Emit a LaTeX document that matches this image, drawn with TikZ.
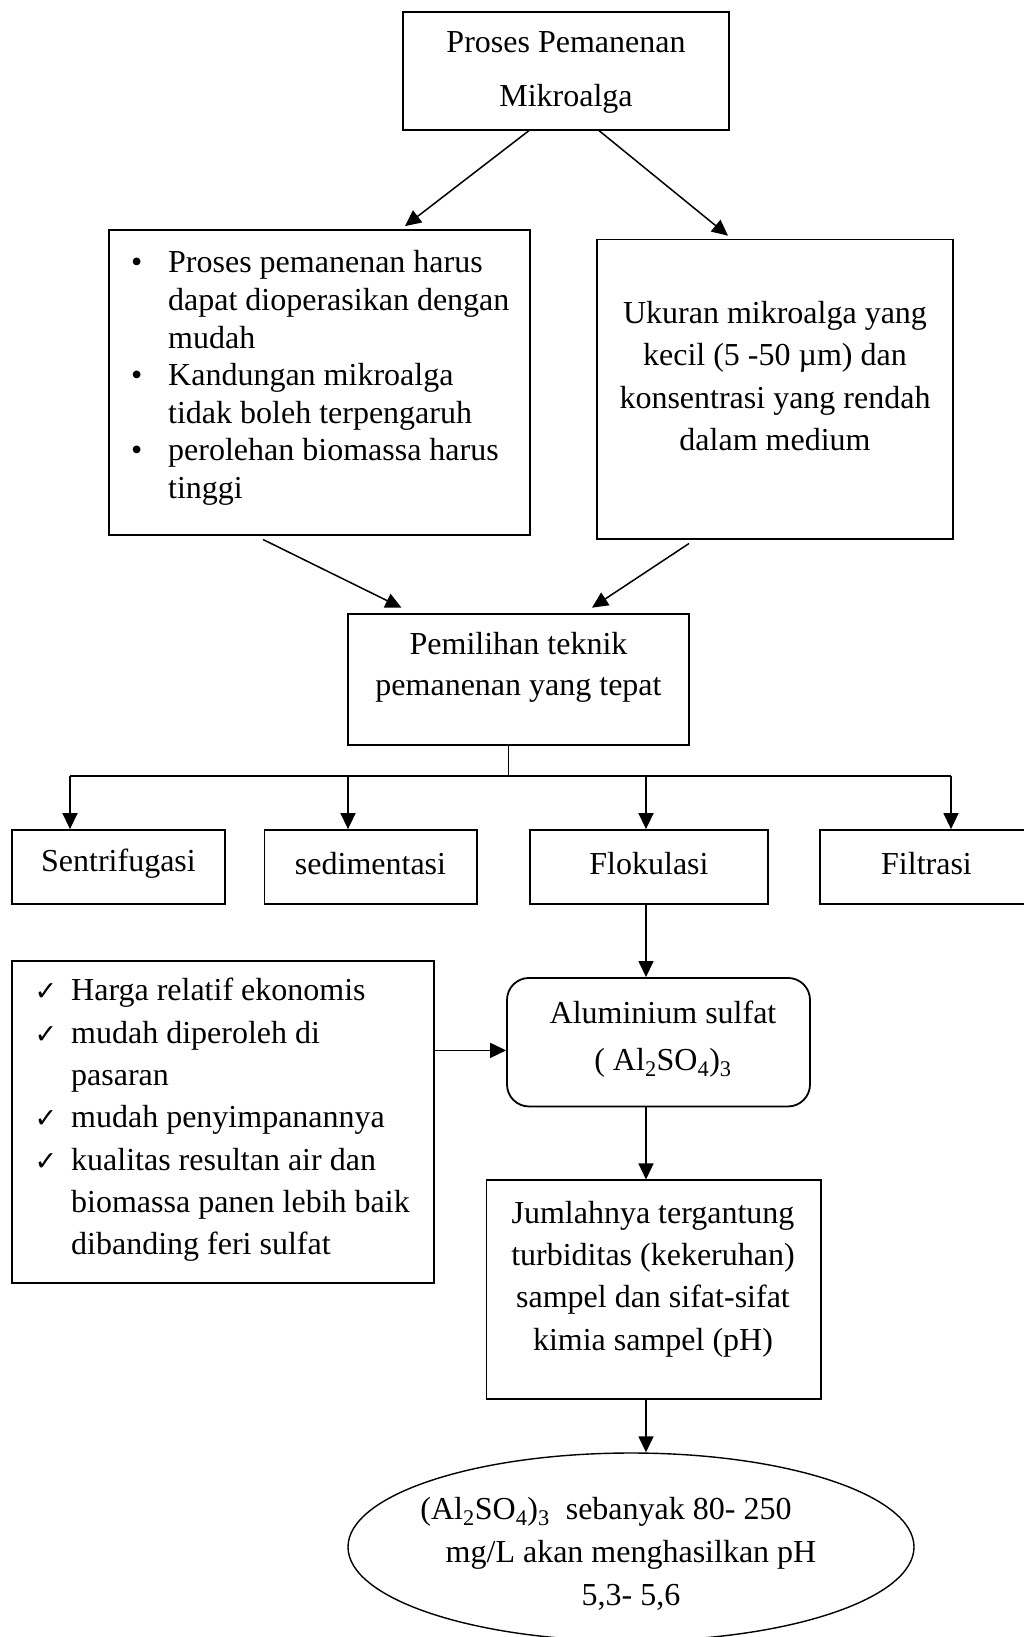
\documentclass[tikz,border=0pt]{standalone}
\usepackage{fontspec}
\setmainfont{Liberation Serif}
\newfontfamily\checkfont{DejaVu Sans}
\usepackage{tikz}
\usetikzlibrary{arrows.meta, shapes.geometric}
\newcommand{\itm}{\makebox[37pt][l]{\textbullet}}
\newcommand{\ind}{\hspace*{37pt}}
\newcommand{\cek}{\makebox[36.5pt][l]{\fontsize{27}{27}\checkfont\bfseries ✓}}
\newcommand{\indc}{\hspace*{36.5pt}}

\begin{document}
\begin{tikzpicture}[x=1pt, y=-1pt,
  box/.style={draw, line width=1.8pt, inner sep=0pt},
  txt/.style={font=\fontsize{32}{42}\selectfont, align=center, inner sep=0pt},
  arr/.style={-{Triangle[length=16pt, width=15pt]}, line width=1.5pt}
]
  \useasboundingbox (0,0) rectangle (1024,1637);
  \clip (0,0) rectangle (1024,1637);

  \node[box, minimum width=326pt, minimum height=118pt] (panen) at (566,70.7) {};
  \node[txt, font=\fontsize{32}{54.4}\selectfont] (panenT) at (566,72.5)
    {Proses Pemanenan\\Mikroalga};

  \node[box, minimum width=421pt, minimum height=304.6pt] (syarat) at (319.5,382.3) {};
  \node[txt, align=left, anchor=west, font=\fontsize{32}{37.6}\selectfont] (syaratT) at (131,378)
    {\itm Proses pemanenan harus\\
     \ind dapat dioperasikan dengan\\
     \ind mudah\\
     \itm Kandungan mikroalga\\
     \ind tidak boleh terpengaruh\\
     \itm perolehan biomassa harus\\
     \ind tinggi};

  \node[box, minimum width=356pt, minimum height=299pt] (ukuran) at (775,389.1) {};
  \node[txt, font=\fontsize{32}{42.2}\selectfont] (ukuranT) at (775,376)
    {Ukuran mikroalga yang\\kecil (5 -50 µm) dan\\konsentrasi yang rendah\\dalam medium};

  \node[box, minimum width=341pt, minimum height=131pt] (pilih) at (518.5,679.1) {};
  \node[txt, font=\fontsize{32}{41}\selectfont] (pilihT) at (518.5,667)
    {Pemilihan teknik\\pemanenan yang tepat};

  % metode pemanenan
  \node[box, minimum width=213pt, minimum height=73.6pt] (sentri) at (118.5,866.8) {};
  \node[txt] (sentriT) at (118.5,864) {Sentrifugasi};
  \node[box, minimum width=212.5pt, minimum height=73.6pt] (sedimen) at (370.75,866.8) {};
  \node[txt] (sedimenT) at (370.5,864) {sedimentasi};
  \node[box, minimum width=238pt, minimum height=73.6pt] (floku) at (649,866.8) {};
  \node[txt] (flokuT) at (649,864) {Flokulasi};
  \node[box, minimum width=212pt, minimum height=73.6pt] (filtr) at (926,866.8) {};
  \node[txt] (filtrT) at (926.5,864) {Filtrasi};

  \node[box, rounded corners=22pt, minimum width=303pt, minimum height=128.5pt] (alum) at (658.5,1042.2) {};
  \node[txt, font=\fontsize{32}{47}\selectfont] (alumT) at (663,1039)
    {Aluminium sulfat\\( Al\textsubscript{2}SO\textsubscript{4})\textsubscript{3}};

  \node[box, minimum width=422pt, minimum height=322.2pt] (cek) at (223,1121.8) {};
  \node[txt, align=left, anchor=west, font=\fontsize{32}{42.3}\selectfont] (cekT) at (34.5,1120)
    {\cek Harga relatif ekonomis\\
     \cek mudah diperoleh di\\
     \indc pasaran\\
     \cek mudah penyimpanannya\\
     \cek kualitas resultan air dan\\
     \indc biomassa panen lebih baik\\
     \indc dibanding feri sulfat};

  \node[box, minimum width=334.5pt, minimum height=218.3pt] (jumlah) at (653.75,1289.5) {};
  \node[txt, font=\fontsize{32}{42.2}\selectfont] (jumlahT) at (653,1279)
    {Jumlahnya tergantung\\turbiditas (kekeruhan)\\sampel dan sifat-sifat\\kimia sampel (pH)};

  \node[draw, ellipse, line width=1.4pt, inner sep=0pt,
        minimum width=566pt, minimum height=188pt] (hasil) at (631,1547) {};
  \node[txt, font=\fontsize{32}{43.3}\selectfont] (hasilT) at (631,1554)
    {(Al\textsubscript{2}SO\textsubscript{4})\textsubscript{3}\ \ sebanyak 80- 250\hspace*{50pt}\\
     mg/L akan menghasilkan pH\\5,3- 5,6};

  \coordinate (busL) at (70,775.7);
  \coordinate (busR) at (951,775.7);

  \draw[arr] ([xshift=-37pt]panen.south) -- ([xshift=85.5pt, yshift=3pt]syarat.north);
  \draw[arr] ([xshift=33pt]panen.south) -- ([xshift=-47pt, yshift=3pt]ukuran.north);
  \draw[arr] ([xshift=-56.5pt, yshift=-4pt]syarat.south) -- ([xshift=-117pt, yshift=5pt]pilih.north);
  \draw[arr] ([xshift=-86pt, yshift=-4pt]ukuran.south) -- ([xshift=73.5pt, yshift=5pt]pilih.north);

  \draw[line width=1.4pt] ([xshift=-10pt]pilih.south) -- ([xshift=-10pt]pilih.south |- busL);
  \draw[line width=2pt] (busL) -- (busR);
  \foreach \n/\dx in {sentri/-48.5, sedimen/-22.75, floku/-3, filtr/25}
    \draw[arr] ([xshift=\dx pt]\n.north |- busL) -- ([xshift=\dx pt]\n.north);

  \draw[arr] ([xshift=-3pt]floku.south) -- ([xshift=-3pt]floku.south |- alum.north);
  \draw[arr] ([yshift=71.4pt]cek.east) -- ([yshift=71.4pt]cek.east -| alum.west);
  \draw[arr] ([xshift=-12.5pt]alum.south) -- ([xshift=-12.5pt]alum.south |- jumlah.north);
  \draw[arr] ([xshift=-7.75pt]jumlah.south) -- ([xshift=-7.75pt]jumlah.south |- hasil.north);
\end{tikzpicture}
\end{document}
